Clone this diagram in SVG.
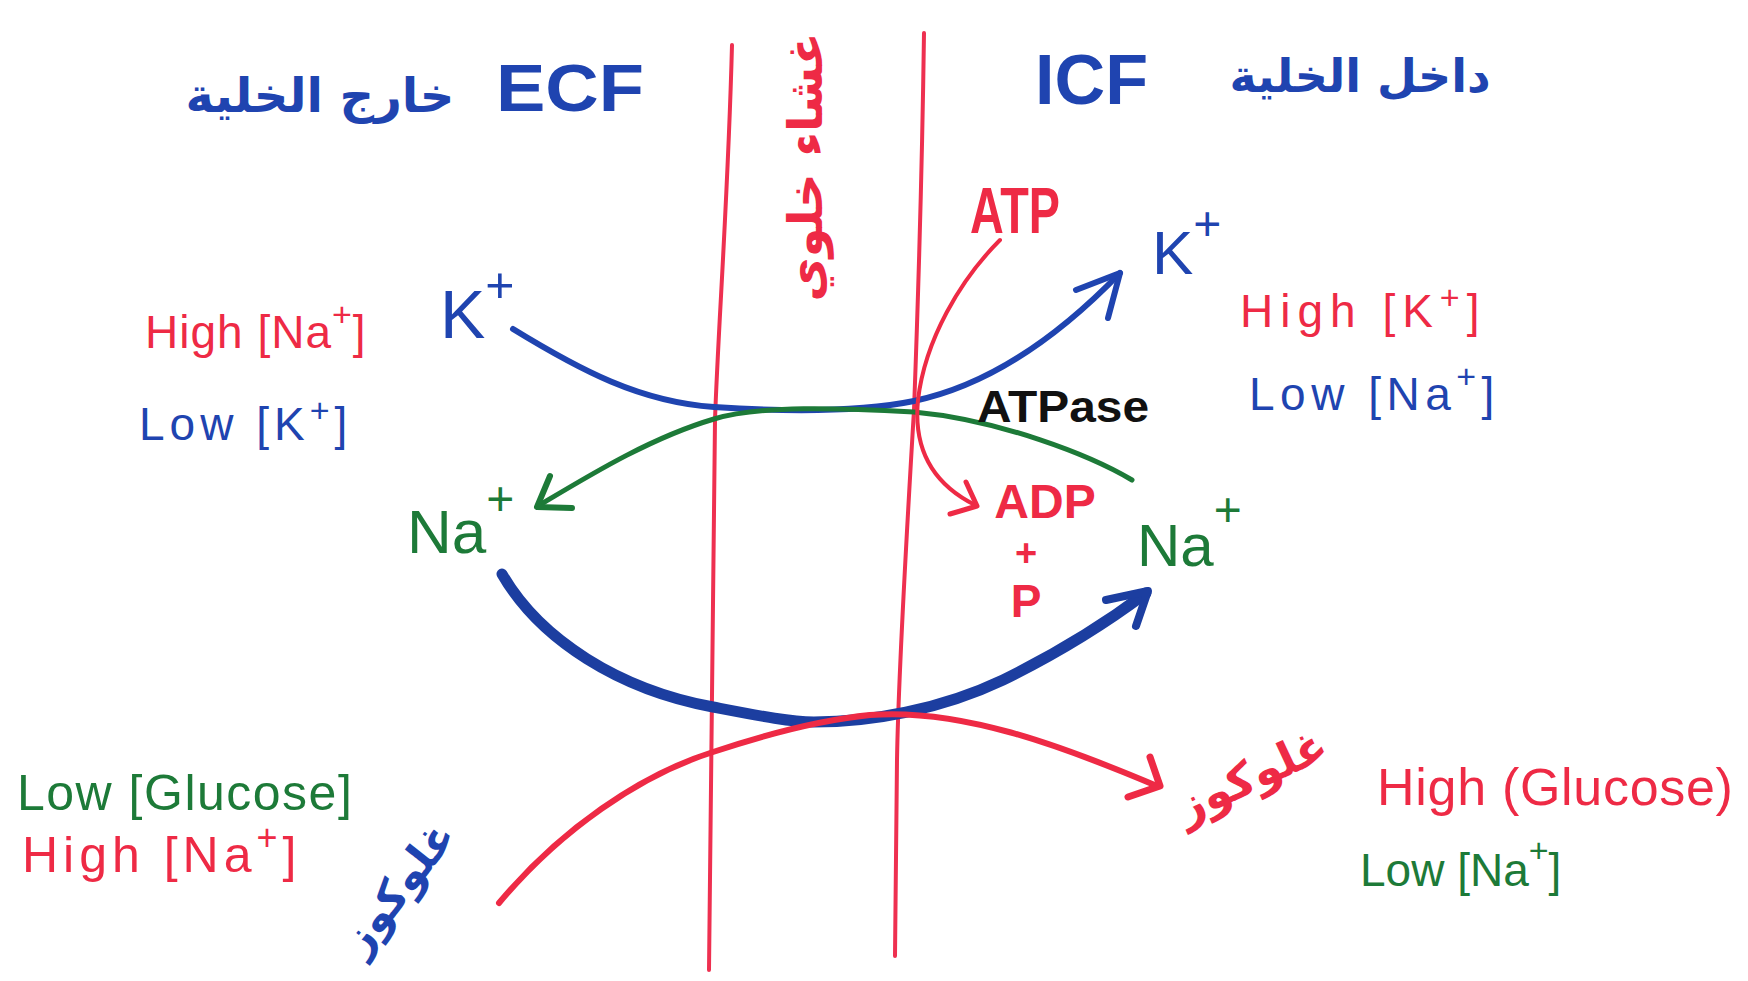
<svg xmlns="http://www.w3.org/2000/svg" width="1748" height="981" viewBox="0 0 1748 981">
<style>
.t{font-family:"Liberation Sans",Arial,sans-serif;}
.b{font-weight:bold;}
.ar{font-family:"DejaVu Sans","Noto Sans",sans-serif;font-weight:bold;}
.blue{fill:#1f44b0;}
.red{fill:#ee2a45;}
.green{fill:#1d7a38;}
.black{fill:#111;}
.mem{fill:none;stroke:#ee3050;stroke-width:4;stroke-linecap:round;}
.ln{fill:none;stroke-linecap:round;stroke-linejoin:round;}
</style>
<rect width="1748" height="981" fill="#ffffff"/>

<g id="membrane">
<path class="mem" d="M732,45 C728,200 718,330 715,420 C712,560 711,760 709,970"/>
<path class="mem" d="M924,33 C922,180 917,330 914,410 C905,560 898,700 897,760 C896,850 895,920 895,956"/>
</g>

<g id="connectors">
<!-- K+ blue arrow -->
<path class="ln" stroke="#1f44b0" stroke-width="6" d="M513,329 C580,370 640,402 714,407 C790,412 860,412 914,401 C990,385 1060,335 1120,273"/>
<path class="ln" stroke="#1f44b0" stroke-width="6" d="M1076,290 L1120,273 L1108,318"/>
<!-- Na+ green arrow -->
<path class="ln" stroke="#1d7a38" stroke-width="5" d="M1132,480 C1090,455 1000,420 914,412 C840,408 760,405 714,419 C650,438 590,475 538,506"/>
<path class="ln" stroke="#1d7a38" stroke-width="6" d="M550,476 L537,507 L572,508"/>
<!-- ATP -> ADP red -->
<path class="ln" stroke="#ee2a45" stroke-width="4" d="M1000,240 C960,280 925,340 918,400 C914,440 925,480 975,505"/>
<path class="ln" stroke="#ee2a45" stroke-width="5" d="M966,482 L977,506 L950,514"/>
<!-- Na+ thick blue lower arrow -->
<path class="ln" stroke="#1c3ea0" stroke-width="11" d="M502,574 C540,640 620,690 713,707 C760,716 790,722 814,722 C870,722 940,710 1003,680 C1060,652 1110,620 1146,593"/>
<path class="ln" stroke="#1c3ea0" stroke-width="8" d="M1106,600 L1148,591 L1136,626"/>
<!-- glucose red arrow -->
<path class="ln" stroke="#ee2a45" stroke-width="6" d="M499,903 C560,830 640,775 713,752 C770,733 820,720 870,715 C960,708 1060,745 1157,786"/>
<path class="ln" stroke="#ee2a45" stroke-width="7" d="M1150,757 L1160,786 L1128,797"/>
</g>

<g id="ecf-label">
<text class="ar blue" x="320" y="112" font-size="48" text-anchor="middle">خارج الخلية</text>
<text class="t b blue" x="496" y="111" font-size="66" textLength="148" lengthAdjust="spacingAndGlyphs">ECF</text>
</g>

<g id="icf-label">
<text class="t b blue" x="1035" y="104" font-size="70" textLength="113" lengthAdjust="spacingAndGlyphs">ICF</text>
<text class="ar blue" x="1360" y="92" font-size="46" text-anchor="middle">داخل الخلية</text>
</g>

<g id="membrane-label">
<text class="ar red" x="0" y="0" font-size="48" text-anchor="middle" transform="translate(822,167) rotate(-90)">غشاء خلوي</text>
</g>

<g id="ecf-k-na">
<text class="t red" x="145" y="348" font-size="46" letter-spacing="1">High [Na<tspan font-size="34" dy="-22">+</tspan><tspan dy="22">]</tspan></text>
<text class="t blue" x="139" y="440" font-size="46" letter-spacing="5">Low [K<tspan font-size="34" dy="-18">+</tspan><tspan dy="18">]</tspan></text>
</g>

<g id="k-left">
<text class="t blue" x="440" y="338" font-size="68">K<tspan font-size="50" dy="-36">+</tspan></text>
</g>

<g id="na-left">
<text class="t green" x="407" y="553" font-size="62">Na<tspan font-size="48" dy="-38">+</tspan></text>
</g>

<g id="atp">
<text class="t b red" x="970" y="233" font-size="64" textLength="90" lengthAdjust="spacingAndGlyphs">ATP</text>
</g>

<g id="k-right">
<text class="t blue" x="1152" y="274" font-size="62">K<tspan font-size="48" dy="-34">+</tspan></text>
</g>

<g id="icf-k-na">
<text class="t red" x="1240" y="327" font-size="46" letter-spacing="7">High [K<tspan font-size="34" dy="-18">+</tspan><tspan dy="18">]</tspan></text>
<text class="t blue" x="1249" y="410" font-size="46" letter-spacing="5.5">Low [Na<tspan font-size="34" dy="-22">+</tspan><tspan dy="22">]</tspan></text>
</g>

<g id="atpase">
<text class="t b black" x="977" y="422" font-size="44" textLength="172" lengthAdjust="spacingAndGlyphs">ATPase</text>
</g>

<g id="adp">
<text class="t b red" x="1045" y="518" font-size="48" text-anchor="middle">ADP</text>
<text class="t b red" x="1026" y="566" font-size="38" text-anchor="middle">+</text>
<text class="t b red" x="1026" y="617" font-size="46" text-anchor="middle">P</text>
</g>

<g id="na-right">
<text class="t green" x="1137" y="566" font-size="60">Na<tspan font-size="48" dy="-40">+</tspan></text>
</g>

<g id="ecf-glucose">
<text class="t green" x="17" y="810" font-size="50" letter-spacing="1.5">Low [Glucose]</text>
<text class="t red" x="22" y="872" font-size="50" letter-spacing="5">High [Na<tspan font-size="36" dy="-22">+</tspan><tspan dy="22">]</tspan></text>
</g>

<g id="glucose-left">
<text class="ar blue" x="0" y="0" font-size="44" text-anchor="middle" transform="translate(410,897) rotate(-52)">غلوكوز</text>
</g>

<g id="glucose-right">
<text class="ar red" x="0" y="0" font-size="46" text-anchor="middle" transform="translate(1258,790) rotate(-25)">غلوكوز</text>
</g>

<g id="icf-glucose">
<text class="t red" x="1377" y="805" font-size="52" letter-spacing="0.7">High (Glucose)</text>
<text class="t green" x="1360" y="886" font-size="46">Low [Na<tspan font-size="34" dy="-24">+</tspan><tspan dy="24">]</tspan></text>
</g>
</svg>
